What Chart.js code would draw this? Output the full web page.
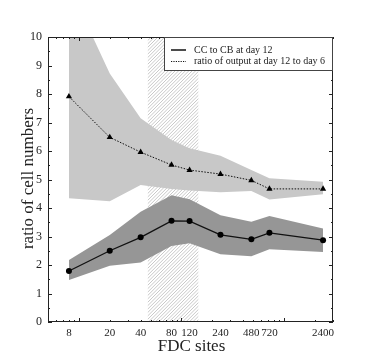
<!DOCTYPE html>
<html>
<head>
<meta charset="utf-8">
<script src="https://cdn.jsdelivr.net/npm/chart.js@4/dist/chart.umd.min.js"></script>
<style>
html,body{margin:0;padding:0;background:#fff;}
#wrap{width:382px;height:358px;}
</style>
</head>
<body>
<div id="wrap"><canvas id="c" width="382" height="358"></canvas></div>
<script>
// ---- data ----
const fdcSites = [8, 20, 40, 80, 120, 240, 480, 720, 2400];
const ccToCb = [1.79, 2.50, 2.97, 3.55, 3.54, 3.06, 2.90, 3.13, 2.87];
const ccToCbHigh = [2.17, 3.05, 3.87, 4.45, 4.31, 3.75, 3.52, 3.72, 3.28];
const ccToCbLow = [1.47, 1.97, 2.09, 2.67, 2.76, 2.38, 2.31, 2.55, 2.46];
const outputRatio = [7.91, 6.48, 5.96, 5.51, 5.33, 5.19, 4.97, 4.67, 4.67];
const outputHigh = [11.8, 8.72, 7.15, 6.39, 6.10, 5.83, 5.33, 5.04, 4.92];
const outputLow = [4.34, 4.24, 4.81, 4.67, 4.61, 4.55, 4.60, 4.30, 4.48];
const hatchRange = [47, 146];
const xTickLabels = [8, 20, 40, 80, 120, 240, 480, 720, 2400];
const yTickLabels = [0, 1, 2, 3, 4, 5, 6, 7, 8, 9, 10];
const seriesLabels = ["CC to CB at day 12", "ratio of output at day 12 to day 6"];
const xTitle = "FDC sites";
const yTitle = "ratio of cell numbers";

const pts = arr => fdcSites.map((x, i) => ({x: x, y: arr[i]}));
const SERIF = "'Liberation Serif', 'DejaVu Serif', serif";

const decor = {
  id: 'decor',
  beforeDatasetsDraw(chart) {
    const {ctx, chartArea: a, scales} = chart;
    const x0 = scales.x.getPixelForValue(hatchRange[0]);
    const x1 = scales.x.getPixelForValue(hatchRange[1]);
    ctx.save();
    ctx.beginPath();
    ctx.rect(x0, a.top, x1 - x0, a.bottom - a.top);
    ctx.clip();
    ctx.strokeStyle = '#b0b0b0';
    ctx.lineWidth = 0.7;
    const h = a.bottom - a.top;
    for (let s = x0 - h; s < x1 + 4; s += 3.4) {
      ctx.beginPath();
      ctx.moveTo(s, a.bottom);
      ctx.lineTo(s + h, a.top);
      ctx.stroke();
    }
    ctx.restore();
  },
  afterDraw(chart) {
    const {ctx, chartArea: a, scales} = chart;
    ctx.save();
    // frame
    ctx.strokeStyle = '#222';
    ctx.lineWidth = 1;
    ctx.strokeRect(Math.round(a.left) + 0.5, Math.round(a.top) + 0.5,
      Math.round(a.right - a.left) - 1, Math.round(a.bottom - a.top) - 1);
    // inner ticks y
    ctx.beginPath();
    for (let v = 0; v <= 10; v += 0.5) {
      const y = Math.round(scales.y.getPixelForValue(v)) + 0.5;
      const len = (v % 1 === 0) ? 4 : 2;
      ctx.moveTo(a.left, y); ctx.lineTo(a.left + len, y);
      ctx.moveTo(a.right, y); ctx.lineTo(a.right - len, y);
    }
    // inner ticks x (log)
    for (let d = 1; d <= 1000; d *= 10) {
      for (let m = 1; m <= 9; m++) {
        const v = m * d;
        if (v < 5 || v > 3000) continue;
        const x = Math.round(scales.x.getPixelForValue(v)) + 0.5;
        const len = (m === 1) ? 4 : 2;
        ctx.moveTo(x, a.bottom); ctx.lineTo(x, a.bottom - len);
        ctx.moveTo(x, a.top); ctx.lineTo(x, a.top + len);
      }
    }
    ctx.stroke();
    // legend
    const lw = 169, lh = 33;
    const lx = Math.round(a.right - lw), ly = Math.round(a.top);
    ctx.fillStyle = '#fff';
    ctx.fillRect(lx, ly, lw, lh);
    ctx.strokeStyle = '#444';
    ctx.strokeRect(lx + 0.5, ly + 0.5, lw - 1, lh);
    ctx.strokeStyle = '#111';
    ctx.lineWidth = 1.5;
    ctx.beginPath();
    ctx.moveTo(lx + 7, ly + 13); ctx.lineTo(lx + 22, ly + 13);
    ctx.stroke();
    ctx.lineWidth = 1;
    ctx.setLineDash([1.2, 1.2]);
    ctx.beginPath();
    ctx.moveTo(lx + 7, ly + 24.5); ctx.lineTo(lx + 22, ly + 24.5);
    ctx.stroke();
    ctx.setLineDash([]);
    ctx.fillStyle = '#222';
    ctx.font = '10px ' + SERIF;
    ctx.textBaseline = 'middle';
    ctx.textAlign = 'left';
    ctx.fillText(seriesLabels[0], lx + 30, ly + 13);
    ctx.fillText(seriesLabels[1], lx + 30, ly + 24);
    // axis titles
    ctx.font = '17px ' + SERIF;
    ctx.textBaseline = 'alphabetic';
    ctx.textAlign = 'center';
    ctx.fillText(xTitle, (a.left + a.right) / 2 + 1, 351);
    ctx.translate(33, (a.top + a.bottom) / 2 - 1);
    ctx.rotate(-Math.PI / 2);
    ctx.fillText(yTitle, 0, 0);
    ctx.restore();
  }
};

new Chart(document.getElementById('c'), {
  type: 'line',
  data: {
    datasets: [
      {label: 'outHigh', data: pts(outputHigh), fill: '+1', backgroundColor: '#c8c8c8',
        borderWidth: 0, pointRadius: 0, order: 2, tension: 0},
      {label: 'outLow', data: pts(outputLow), fill: false, borderWidth: 0, pointRadius: 0, order: 2},
      {label: 'ccHigh', data: pts(ccToCbHigh), fill: '+1', backgroundColor: '#969696',
        borderWidth: 0, pointRadius: 0, order: 2},
      {label: 'ccLow', data: pts(ccToCbLow), fill: false, borderWidth: 0, pointRadius: 0, order: 2},
      {label: seriesLabels[1], data: pts(outputRatio), fill: false, borderColor: '#111',
        borderWidth: 1, borderDash: [1.5, 1.5], pointStyle: 'triangle', pointRadius: 3.6,
        pointBackgroundColor: '#000', pointBorderColor: '#000', pointBorderWidth: 0, order: 0},
      {label: seriesLabels[0], data: pts(ccToCb), fill: false, borderColor: '#111',
        borderWidth: 1.3, pointStyle: 'circle', pointRadius: 3,
        pointBackgroundColor: '#000', pointBorderColor: '#000', pointBorderWidth: 0, order: 0}
    ]
  },
  options: {
    responsive: false,
    animation: false,
    events: [],
    layout: {padding: {top: 37, right: 49, left: 0, bottom: 0}},
    plugins: {legend: {display: false}, tooltip: {enabled: false}},
    scales: {
      x: {
        type: 'logarithmic', min: 5, max: 3000,
        grid: {display: false, drawTicks: false},
        border: {display: false},
        afterBuildTicks: s => { s.ticks = xTickLabels.map(v => ({value: v})); },
        afterFit: s => { s.height = 36; },
        ticks: {autoSkip: false, maxRotation: 0, padding: 5, color: '#222',
          font: {family: SERIF, size: 11}, callback: v => String(v)}
      },
      y: {
        type: 'linear', min: 0, max: 10,
        grid: {display: false, drawTicks: false},
        border: {display: false},
        afterBuildTicks: s => { s.ticks = yTickLabels.map(v => ({value: v})); },
        afterFit: s => { s.width = 48; },
        ticks: {padding: 6, color: '#222', font: {family: SERIF, size: 12}, callback: v => String(v)}
      }
    }
  },
  plugins: [decor]
});
</script>
</body>
</html>
